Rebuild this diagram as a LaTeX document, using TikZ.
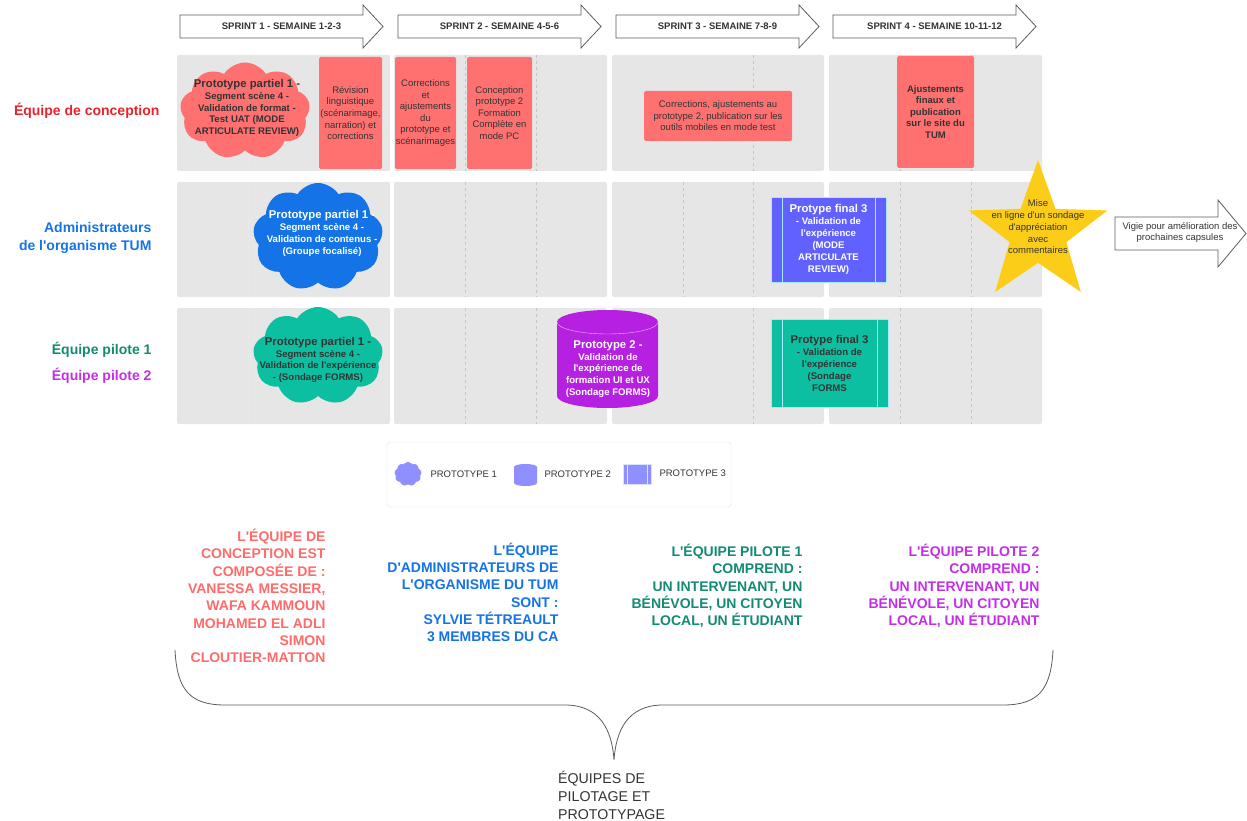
\documentclass[tikz,border=0pt]{standalone}
\usepackage{fontspec}
\setmainfont{Liberation Sans}[Ligatures=TeXOff]
\usetikzlibrary{shapes.geometric,shapes.symbols}

\definecolor{conred}{HTML}{FF7171}
\definecolor{labred}{HTML}{E8232A}
\definecolor{txtred}{HTML}{FF6B6B}
\definecolor{tumblue}{HTML}{1473E6}
\definecolor{pilteal}{HTML}{0CBFA0}
\definecolor{labteal}{HTML}{138A72}
\definecolor{pilpurple}{HTML}{C42EE8}
\definecolor{cylpurple}{HTML}{B620E0}
\definecolor{finalblue}{HTML}{6161FF}
\definecolor{finaledge}{HTML}{A6E9FF}
\definecolor{staryellow}{HTML}{FCCD18}
\definecolor{rowgrey}{HTML}{E6E6E6}
\definecolor{legicon}{HTML}{8F8FFF}
\definecolor{legedge}{HTML}{D6E4FF}
\definecolor{darktext}{HTML}{333333}

\tikzset{
  sprintline/.style={draw=darktext!80, fill=white, line width=0.8pt},
  sprintlabel/.style={font=\bfseries\fontsize{9.5}{11}\selectfont, text=darktext},
  rowlabel/.style={font=\bfseries\fontsize{14}{18}\selectfont, anchor=east, align=right},
  weekline/.style={gray!45, dashed, line width=0.6pt},
  taskbox/.style={fill=conred, rounded corners=1.5pt, inner sep=0pt, align=center,
    text=darktext, font=\fontsize{9.5}{11.6}\selectfont},
  cloudshape/.style={cloud, cloud puffs=9, cloud puff arc=115, cloud ignores aspect, inner sep=0pt},
  cloudtext/.style={align=center, font=\bfseries\fontsize{9.6}{11.8}\selectfont},
  finalbox/.style={draw=finaledge, align=center, inner sep=0pt, font=\bfseries\fontsize{9.6}{12}\selectfont},
  smalltext/.style={align=center, text=darktext, font=\fontsize{9.5}{11.8}\selectfont},
  teamtext/.style={anchor=east, align=right, font=\bfseries\fontsize{14}{17.3}\selectfont}
}

\begin{document}
\begin{tikzpicture}[x=1pt,y=-1pt]
\useasboundingbox (0,0) rectangle (1247,821);

\foreach \ya/\yb in {55/171,182/297,308/424}{
  \foreach \xa/\xb in {177/390,394/607,612/824,829/1042}
    \fill[rowgrey, rounded corners=2pt] (\xa,\ya) rectangle (\xb,\yb);
  \foreach \x in {248,318}
    \draw[gray!18] (\x,\ya) -- (\x,\yb);
  \foreach \x in {465,536,753,900,971}
    \draw[weekline] (\x,\ya) -- (\x,\yb);
}
\draw[weekline] (683,182) -- (683,297);

\foreach \i/\xa/\lab in {1/180/{SPRINT 1 - SEMAINE 1-2-3},2/398/{SPRINT 2 - SEMAINE 4-5-6},
    3/616/{SPRINT 3 - SEMAINE 7-8-9},4/833/{SPRINT 4 - SEMAINE 10-11-12}}{
  \draw[sprintline] (\xa,15) -- ++(183,0) -- ++(0,-10) -- ++(20,21.5) -- ++(-20,21.5)
    -- ++(0,-10) -- ++(-183,0) -- cycle;
  \node[sprintlabel] (sprint\i) at (\xa+101.5,26.5) {\lab};
}

\node[rowlabel, text=labred] (lconc) at (163,111) {Équipe de conception};
\node[rowlabel, text=tumblue] (ladmin) at (155,238) {Administrateurs\\de l'organisme TUM};
\node[rowlabel, text=labteal] (lpilot1) at (155,350) {Équipe pilote 1};
\node[rowlabel, text=pilpurple] (lpilot2) at (155,376) {Équipe pilote 2};

\node[cloudshape, fill=conred, minimum width=130pt, minimum height=97pt] (cloud1) at (245,111) {};
\node[cloudtext, text=darktext] (cloud1txt) at (247,108) {{\fontsize{11.3}{13}\selectfont Prototype partiel 1 -}\\Segment scène 4 -\\Validation de format -\\Test UAT (MODE\\ARTICULATE REVIEW)};
\node[taskbox, minimum width=63pt, minimum height=112pt] (revision) at (350.5,113) {Révision\\linguistique\\(scénarimage,\\narration) et\\corrections};
\node[taskbox, minimum width=61pt, minimum height=112pt] (corrproto) at (425.5,113) {Corrections\\et\\ajustements\\du\\prototype et\\scénarimages};
\node[taskbox, minimum width=65pt, minimum height=112pt] (concproto) at (499.5,113) {Conception\\prototype 2\\Formation\\Complète en\\mode PC};
\node[taskbox, minimum width=148pt, minimum height=50pt] (corrmobile) at (718,116) {Corrections, ajustements au\\prototype 2, publication sur les\\outils mobiles en mode test};
\node[taskbox, minimum width=77pt, minimum height=112pt, font=\bfseries\fontsize{9.5}{11.6}\selectfont] (ajust) at (935.5,112) {Ajustements\\finaux et\\publication\\sur le site du\\TUM};

\node[cloudshape, fill=tumblue, minimum width=130pt, minimum height=108pt] (cloud2) at (318,237) {};
\node[cloudtext, text=white] (cloud2txt) at (322,233.5) {{\fontsize{11.3}{13}\selectfont Prototype partiel 1 -}\\Segment scène 4 -\\Validation de contenus -\\(Groupe focalisé)};
\node[finalbox, fill=finalblue, text=white, minimum width=115pt, minimum height=85pt] (final2) at (828.5,239.5) {{\fontsize{11.3}{13}\selectfont Protype final 3}\\- Validation de\\l'expérience\\(MODE\\ARTICULATE\\REVIEW)};
\draw[finaledge] ([xshift=11pt]final2.north west) -- ([xshift=11pt]final2.south west);
\draw[finaledge] ([xshift=-11pt]final2.north east) -- ([xshift=-11pt]final2.south east);
\node[star, star points=5, star point ratio=2.45, fill=staryellow, minimum size=146pt, inner sep=0pt] (sondage) at (1038,233) {};
\node[smalltext] (sondagetxt) at (1038,227) {Mise\\en ligne d'un sondage\\d'appréciation\\avec\\commentaires};
\draw[sprintline] (1115,217) -- (1218,217) -- (1218,200) -- (1246,233.5) -- (1218,267) -- (1218,250) -- (1115,250) -- cycle;
\node[smalltext] (vigie) at (1180,232.5) {Vigie pour amélioration des\\prochaines capsules};

\node[cloudshape, fill=pilteal, minimum width=130pt, minimum height=98pt] (cloud3) at (318,356) {};
\node[cloudtext, text=darktext] (cloud3txt) at (318,360) {{\fontsize{11.3}{13}\selectfont Prototype partiel 1 -}\\Segment scène 4 -\\Validation de l'expérience\\- (Sondage FORMS)};
\fill[cylpurple] (557,322) -- (557,396) arc[start angle=180, end angle=360, x radius=50.5pt, y radius=12pt]
  -- (658,322) arc[start angle=0, end angle=180, x radius=50.5pt, y radius=12pt] -- cycle;
\draw[white!70!cylpurple] (557,322) arc[start angle=180, end angle=360, x radius=50.5pt, y radius=12pt];
\node[cloudtext, text=white] (cyl3txt) at (608,369) {{\fontsize{11.3}{13}\selectfont Prototype 2 -}\\Validation de\\l'expérience de\\formation UI et UX\\(Sondage FORMS)};
\node[finalbox, fill=pilteal, text=darktext, minimum width=117pt, minimum height=88pt] (final3) at (829.5,363) {{\fontsize{11.3}{13}\selectfont Protype final 3}\\- Validation de\\l'expérience\\(Sondage\\FORMS};
\draw[finaledge] ([xshift=11pt]final3.north west) -- ([xshift=11pt]final3.south west);
\draw[finaledge] ([xshift=-11pt]final3.north east) -- ([xshift=-11pt]final3.south east);

\node[draw=legedge, fill=white, rounded corners=3pt, minimum width=344pt, minimum height=65pt] (legend) at (559,474.5) {};
\node[cloudshape, fill=legicon, minimum width=27pt, minimum height=24pt] (legcloud) at (408,474) {};
\node[smalltext, anchor=west] (leg1) at (427,474) {PROTOTYPE 1};
\fill[legicon] (514,467) -- (514,483) arc[start angle=180, end angle=360, x radius=11.5pt, y radius=3pt]
  -- (537,467) arc[start angle=0, end angle=180, x radius=11.5pt, y radius=3pt] -- cycle;
\node[smalltext, anchor=west] (leg2) at (541,474) {PROTOTYPE 2};
\node[draw=legedge, fill=legicon, minimum width=28pt, minimum height=20pt, inner sep=0pt] (legproc) at (637,474) {};
\draw[legedge] ([xshift=4pt]legproc.north west) -- ([xshift=4pt]legproc.south west);
\draw[legedge] ([xshift=-4pt]legproc.north east) -- ([xshift=-4pt]legproc.south east);
\node[smalltext, anchor=west] (leg3) at (656,473) {PROTOTYPE 3};

\node[teamtext, text=txtred] (teamconc) at (329,596) {L'ÉQUIPE DE\\CONCEPTION EST\\COMPOSÉE DE :\\VANESSA MESSIER,\\WAFA KAMMOUN\\MOHAMED EL ADLI\\SIMON\\CLOUTIER-MATTON};
\node[teamtext, text=tumblue] (teamadmin) at (562,592.5) {L'ÉQUIPE\\D'ADMINISTRATEURS DE\\L'ORGANISME DU TUM\\SONT :\\SYLVIE TÉTREAULT\\3 MEMBRES DU CA};
\node[teamtext, text=labteal] (teampilot1) at (806,586) {L'ÉQUIPE PILOTE 1\\COMPREND :\\UN INTERVENANT, UN\\BÉNÉVOLE, UN CITOYEN\\LOCAL, UN ÉTUDIANT};
\node[teamtext, text=pilpurple] (teampilot2) at (1043,586) {L'ÉQUIPE PILOTE 2\\COMPREND :\\UN INTERVENANT, UN\\BÉNÉVOLE, UN CITOYEN\\LOCAL, UN ÉTUDIANT};

\draw[darktext!80, line width=0.8pt] (175,650) .. controls (177,690) and (190,705) .. (225,705) -- (565,705)
  .. controls (600,705) and (612,730) .. (614,760) .. controls (616,730) and (628,705) .. (663,705)
  -- (1003,705) .. controls (1038,705) and (1051,690) .. (1053,650);
\node[anchor=west, align=left, inner sep=0pt, text=darktext, font=\fontsize{14.2}{18}\selectfont] (equipes) at (558,795) {ÉQUIPES DE\\PILOTAGE ET\\PROTOTYPAGE};
\end{tikzpicture}
\end{document}
